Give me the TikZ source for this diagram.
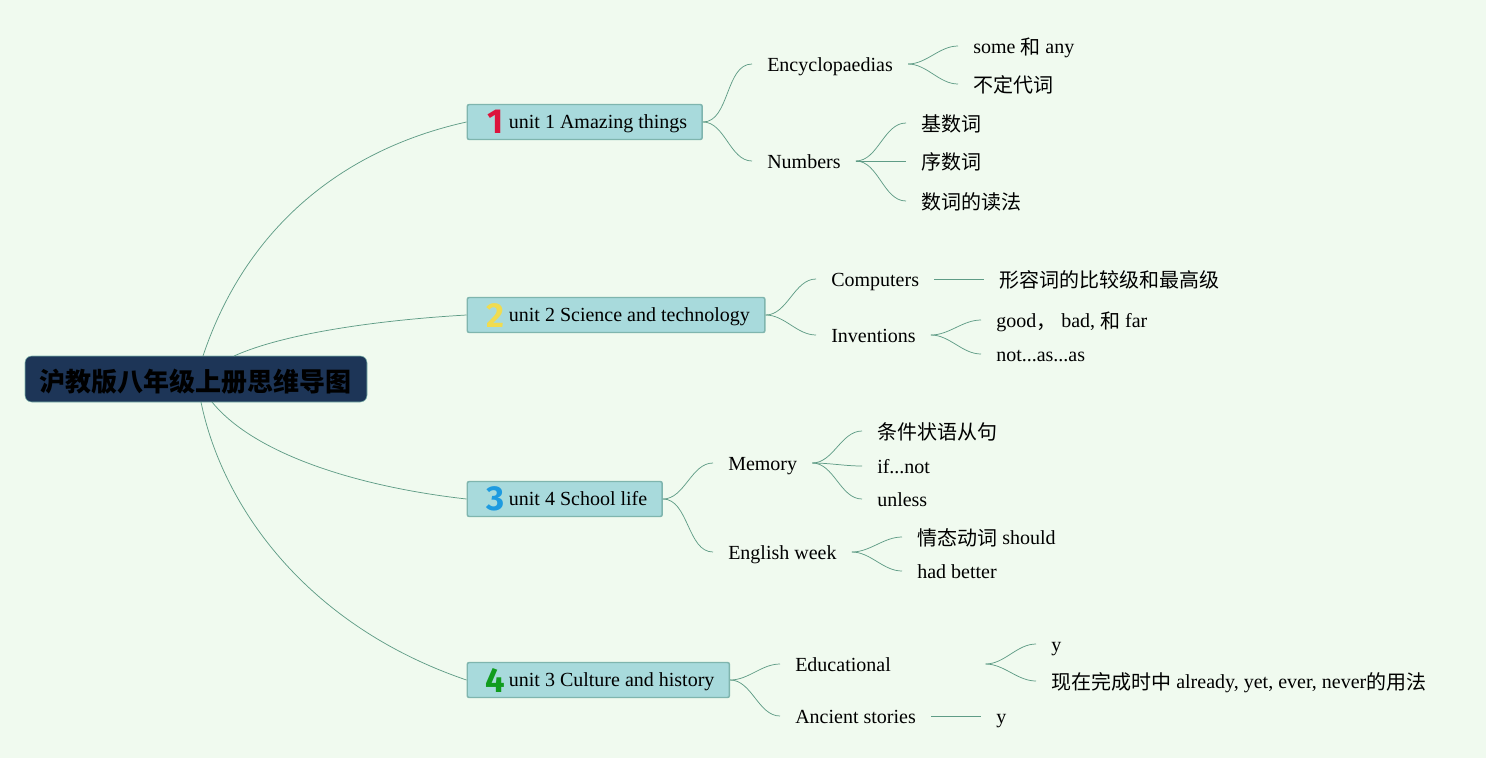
\documentclass[tikz,border=0pt]{standalone}
\usepackage{fontspec}
\setmainfont{Liberation Serif}
\newfontfamily\cjk{Noto Sans CJK SC}
\newfontfamily\digitfont{Fira Sans}
\definecolor{pagebg}{HTML}{F0FAEF}
\definecolor{rootfill}{HTML}{1D3557}
\definecolor{unitfill}{HTML}{A8DADC}
\definecolor{unitline}{HTML}{7FB5AE}
\definecolor{linkline}{HTML}{5F9C86}
\definecolor{digitred}{HTML}{DC143C}
\definecolor{digityellow}{HTML}{F0DC50}
\definecolor{digitblue}{HTML}{1E9BE0}
\definecolor{digitgreen}{HTML}{119C1E}
\tikzset{
  leaf/.style={anchor=west, inner xsep=15*0.75pt, inner ysep=0pt, text height=19*0.75pt, text depth=4*0.75pt, font=\fontsize{15pt}{18pt}\selectfont},
  unit/.style={leaf, draw=unitline, fill=unitfill, line width=1.1pt, rounded corners=1.5pt, minimum height=35*0.75pt, inner xsep=15*0.75pt, text height=17*0.75pt},
  digit/.style={font=\digitfont\bfseries\fontsize{26pt}{26pt}\selectfont, inner sep=0pt},
  link/.style={draw=linkline, line width=0.55pt},
  flare/.style={link, out=0, in=180, looseness=0.9}
}
\newcommand{\unitgap}{\hspace*{20pt}}
\newcommand{\zh}[1]{\raisebox{-0.75pt}{\cjk #1}}

\begin{document}
\begin{tikzpicture}[x=0.75pt, y=-0.75pt]
        \useasboundingbox[fill=pagebg] (0,0) rectangle (1486,758);
        % Root
        \node[draw=unitline, fill=rootfill, rounded corners=5pt, minimum width=342*0.75pt, minimum height=46*0.75pt, inner sep=0pt, text height=24*0.75pt, text depth=0pt, font=\cjk\bfseries\fontsize{19.5pt}{24pt}\selectfont] (root) at (196,379) {沪教版八年级上册思维导图};
        \coordinate (roota) at (203,356);
        \coordinate (rootb) at (234,356);
        \coordinate (rootc) at (212,402);
        \coordinate (rootd) at (201,402);

        % Units
        \node[unit] (u1) at (466.5,122) {\unitgap unit 1 Amazing things};
        \node[unit] (u2) at (466.5,315) {\unitgap unit 2 Science and technology};
        \node[unit] (u3) at (466.5,499) {\unitgap unit 4 School life};
        \node[unit] (u4) at (466.5,680) {\unitgap unit 3 Culture and history};
        \node[digit, text=digitred] (d1) at (495.5,122) {1};
        \node[digit, text=digityellow] (d2) at (495,316) {2};
        \node[digit, text=digitblue] (d3) at (495.5,499) {3};
        \node[digit, text=digitgreen] (d4) at (495,680) {4};

        % Topics
        \node[leaf] (ency) at (752,64) {Encyclopaedias};
        \node[leaf] (numb) at (752,161) {Numbers};
        \node[leaf] (comp) at (816,279) {Computers};
        \node[leaf] (inve) at (816,335) {Inventions};
        \node[leaf] (memo) at (713,463) {Memory};
        \node[leaf] (week) at (713,552) {English week};
        \node[leaf, align=left, text width=175*0.75pt] (educ) at (780,664) {Educational};
        \node[leaf] (stor) at (780,716) {Ancient stories};

        % Details
        \node[leaf] (some) at (958,46) {some \zh{和} any};
        \node[leaf] (inde) at (958,84) {\zh{不定代词}};
        \node[leaf] (card) at (906,123) {\zh{基数词}};
        \node[leaf] (ordi) at (906,161) {\zh{序数词}};
        \node[leaf] (read) at (906,201) {\zh{数词的读法}};
        \node[leaf] (adje) at (984,279) {\zh{形容词的比较级和最高级}};
        \node[leaf] (good) at (981,320) {good\zh{，} bad, \zh{和} far};
        \node[leaf] (asas) at (981,354) {not...as...as};
        \node[leaf] (cond) at (862,431) {\zh{条件状语从句}};
        \node[leaf] (ifno) at (862,466) {if...not};
        \node[leaf] (unle) at (862,499) {unless};
        \node[leaf] (moda) at (902,537) {\zh{情态动词} should};
        \node[leaf] (bett) at (902,571) {had better};
        \node[leaf] (ya) at (1036,644) {y};
        \node[leaf] (perf) at (1036,681) {\zh{现在完成时中} already, yet, ever, never\zh{的用法}};
        \node[leaf] (yb) at (981,716) {y};

        % Root edges
        \draw[link] (roota) .. controls (245,230) and (340,150) .. (u1.west);
        \draw[link] (rootb) .. controls (285,333) and (380,320) .. (u2.west);
        \draw[link] (rootc) .. controls (255,455) and (360,487) .. (u3.west);
        \draw[link] (rootd) .. controls (222,505) and (305,625) .. (u4.west);

        % Unit edges
        \draw[flare] (u1.east) to (ency.west);
        \draw[flare] (u1.east) to (numb.west);
        \draw[flare] (u2.east) to (comp.west);
        \draw[flare] (u2.east) to (inve.west);
        \draw[flare] (u3.east) to (memo.west);
        \draw[flare] (u3.east) to (week.west);
        \draw[flare] (u4.east) to (educ.west);
        \draw[flare] (u4.east) to (stor.west);

        % Topic edges
        \draw[flare] (ency.east) to (some.west);
        \draw[flare] (ency.east) to (inde.west);
        \draw[flare] (numb.east) to (card.west);
        \draw[link] (numb.east) -- (ordi.west);
        \draw[flare] (numb.east) to (read.west);
        \draw[link] (comp.east) -- (adje.west);
        \draw[flare] (inve.east) to (good.west);
        \draw[flare] (inve.east) to (asas.west);
        \draw[flare] (memo.east) to (cond.west);
        \draw[flare] (memo.east) to (ifno.west);
        \draw[flare] (memo.east) to (unle.west);
        \draw[flare] (week.east) to (moda.west);
        \draw[flare] (week.east) to (bett.west);
        \draw[flare] (educ.east) to (ya.west);
        \draw[flare] (educ.east) to (perf.west);
        \draw[link] (stor.east) -- (yb.west);
    \end{tikzpicture}
\end{document}
